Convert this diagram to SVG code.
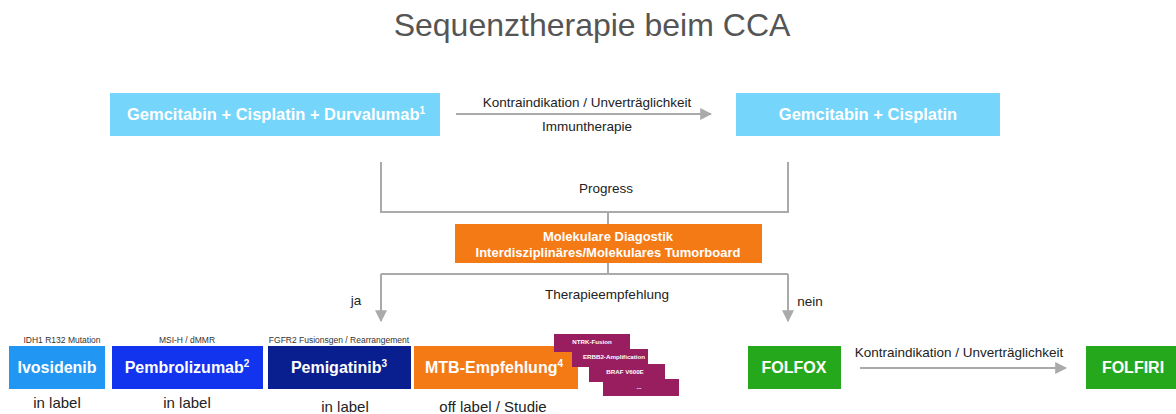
<svg xmlns="http://www.w3.org/2000/svg" width="1176" height="414" viewBox="0 0 1176 414">
<defs>
<marker id="ah" viewBox="0 0 10 10" refX="9" refY="5" markerWidth="12" markerHeight="12" markerUnits="userSpaceOnUse" orient="auto">
<path d="M0,0 L10,5 L0,10 z" fill="#aaaaaa"/>
</marker>
<style>
text{font-family:"Liberation Sans",Arial,sans-serif}
.box{font-weight:bold;fill:#ffffff;text-anchor:middle}
.top{font-size:16.5px}
.bot{font-size:16px}
.lbl{font-size:13.5px;fill:#222;text-anchor:middle}
.sm{font-size:8.5px;fill:#333;text-anchor:middle}
.st{font-size:15px;fill:#222;text-anchor:middle}
.card{fill:#991e5f}
.ct{font-size:6.2px;font-weight:bold;fill:#fff;text-anchor:middle}
.ln{fill:none;stroke:#aaaaaa;stroke-width:2}
</style>
</defs>
<rect width="1176" height="414" fill="#ffffff"/>
<text x="592" y="36" font-size="32" fill="#555" text-anchor="middle">Sequenztherapie beim CCA</text>

<g id="connectors">
<line class="ln" x1="456" y1="114" x2="711" y2="114" marker-end="url(#ah)"/>
<text class="lbl" x="587" y="107">Kontraindikation / Unverträglichkeit</text>
<text class="lbl" x="587" y="131">Immuntherapie</text>
<path class="ln" d="M381,162 V212 H788 V162"/>
<path class="ln" d="M608,212 V224"/>
<text class="lbl" x="606" y="193">Progress</text>
<path class="ln" d="M608,263 V274"/>
<path class="ln" d="M381,274 H788"/>
<line class="ln" x1="381" y1="274" x2="381" y2="321" marker-end="url(#ah)"/>
<line class="ln" x1="788" y1="274" x2="788" y2="321" marker-end="url(#ah)"/>
<text class="lbl" x="607" y="299">Therapieempfehlung</text>
<text class="lbl" x="356" y="305">ja</text>
<text class="lbl" x="810" y="306">nein</text>
<line class="ln" x1="860" y1="368" x2="1066" y2="368" marker-end="url(#ah)"/>
<text class="lbl" x="959" y="357">Kontraindikation / Unverträglichkeit</text>
</g>

<g id="gcd">
<rect x="110" y="93" width="330" height="43" fill="#76d5fb"/>
<text class="box top" x="276" y="120">Gemcitabin + Cisplatin + Durvalumab<tspan font-size="10" dy="-6">1</tspan></text>
</g>
<g id="gc">
<rect x="736" y="93" width="264" height="43" fill="#76d5fb"/>
<text class="box top" x="868" y="120">Gemcitabin + Cisplatin</text>
</g>
<g id="mtb-board">
<rect x="455" y="224" width="307" height="39" fill="#f47a16"/>
<text class="box" font-size="13" x="608" y="241">Molekulare Diagostik</text>
<text class="box" font-size="13" x="608" y="257">Interdisziplinäres/Molekulares Tumorboard</text>
</g>

<g id="ivosidenib">
<text class="sm" x="62" y="343">IDH1 R132 Mutation</text>
<rect x="9" y="346" width="96" height="43" fill="#2196f3"/>
<text class="box bot" x="57" y="373">Ivosidenib</text>
<text class="st" x="57" y="408">in label</text>
</g>
<g id="pembrolizumab">
<text class="sm" x="187" y="343">MSI-H / dMMR</text>
<rect x="112" y="346" width="151" height="43" fill="#1234ee"/>
<text class="box bot" x="187" y="373">Pembrolizumab<tspan font-size="10" dy="-6">2</tspan></text>
<text class="st" x="187" y="408">in label</text>
</g>
<g id="pemigatinib">
<text class="sm" x="339" y="343">FGFR2 Fusionsgen / Rearrangement</text>
<rect x="268" y="346" width="143" height="43" fill="#0a1f8f"/>
<text class="box bot" x="339" y="373">Pemigatinib<tspan font-size="10" dy="-6">3</tspan></text>
<text class="st" x="345" y="412">in label</text>
</g>
<g id="mtb">
<rect x="414" y="346" width="164" height="43" fill="#f47a16"/>
<text class="box bot" x="494" y="373">MTB-Empfehlung<tspan font-size="10" dy="-6">4</tspan></text>
<text class="st" x="493" y="412">off label / Studie</text>
</g>
<g id="cards">
<rect class="card" x="554" y="334" width="76" height="18"/>
<text class="ct" x="592" y="344">NTRK-Fusion</text>
<rect class="card" x="572" y="349" width="76" height="18"/>
<text class="ct" x="614" y="359">ERBB2-Amplification</text>
<rect class="card" x="589" y="364" width="76" height="18"/>
<text class="ct" x="625" y="374">BRAF V600E</text>
<rect class="card" x="603" y="379" width="76" height="17"/>
<text class="ct" x="639" y="389">...</text>
</g>
<g id="folfox">
<rect x="748" y="346" width="93" height="43" fill="#26a81c"/>
<text class="box bot" x="794" y="373">FOLFOX</text>
</g>
<g id="folfiri">
<rect x="1086" y="346" width="94" height="43" fill="#26a81c"/>
<text class="box bot" x="1133" y="373">FOLFIRI</text>
</g>
</svg>
